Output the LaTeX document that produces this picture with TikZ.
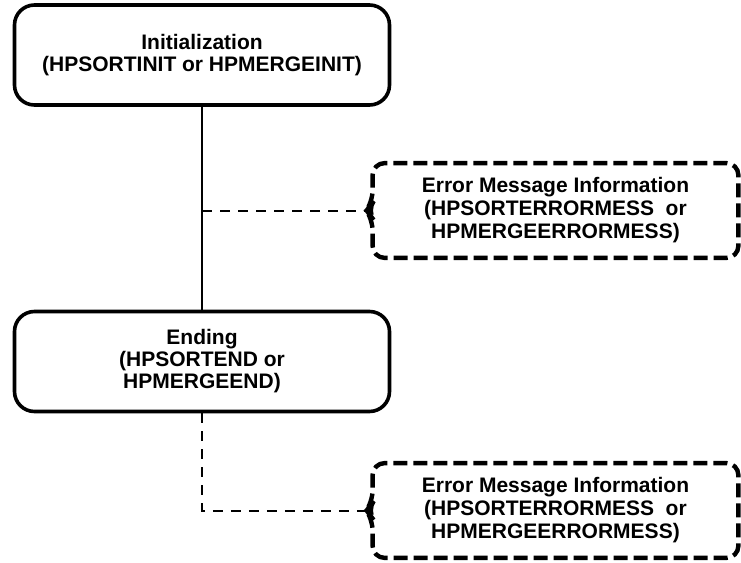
\documentclass[tikz,border=0pt]{standalone}
\usepackage{fontspec}
\setmainfont{Liberation Sans}
\begin{document}
\begin{tikzpicture}[x=0.5pt,y=-0.5pt,
  proc/.style={draw,line width=1.8pt,rounded corners=10pt,minimum width=187.5pt,
    minimum height=50pt,align=center,font=\bfseries\fontsize{10.5}{11}\selectfont},
  errbox/.style={minimum width=182.5pt,minimum height=47pt,align=center,
    font=\bfseries\fontsize{10.5}{11.5}\selectfont},
  errline/.style={line width=2.2pt,dash pattern=on 7pt off 3pt,rounded corners=6pt},
  link/.style={line width=1pt},
  dlink/.style={line width=1pt,dash pattern=on 5pt off 4pt}]
\useasboundingbox (0,0) rectangle (741,563);
\node[proc] (init) at (202,55) {Initialization\\(HPSORTINIT or HPMERGEINIT)};
\node[proc] (ending) at (202,361.5) {Ending\\(HPSORTEND or\\HPMERGEEND)};
\node[errbox] (err1) at (555.5,210.5) {Error Message Information\\(HPSORTERRORMESS\ \ or\\HPMERGEERRORMESS)};
\node[errbox] (err2) at (555.5,510.5) {Error Message Information\\(HPSORTERRORMESS\ \ or\\HPMERGEERRORMESS)};
\foreach \e in {err1,err2}
\draw[errline] ([xshift=-3pt]\e.west) -- ([yshift=4pt]\e.west) -- (\e.north west)
  -- (\e.north east) -- (\e.south east) -- (\e.south west) -- ([yshift=-4pt]\e.west) -- cycle;
\draw[link] (init) -- (ending);
\draw[dlink] (init.south |- err1.west) -- ([xshift=-3pt]err1.west);
\draw[dlink] (ending.south) |- ([xshift=-3pt]err2.west);
\end{tikzpicture}
\end{document}
